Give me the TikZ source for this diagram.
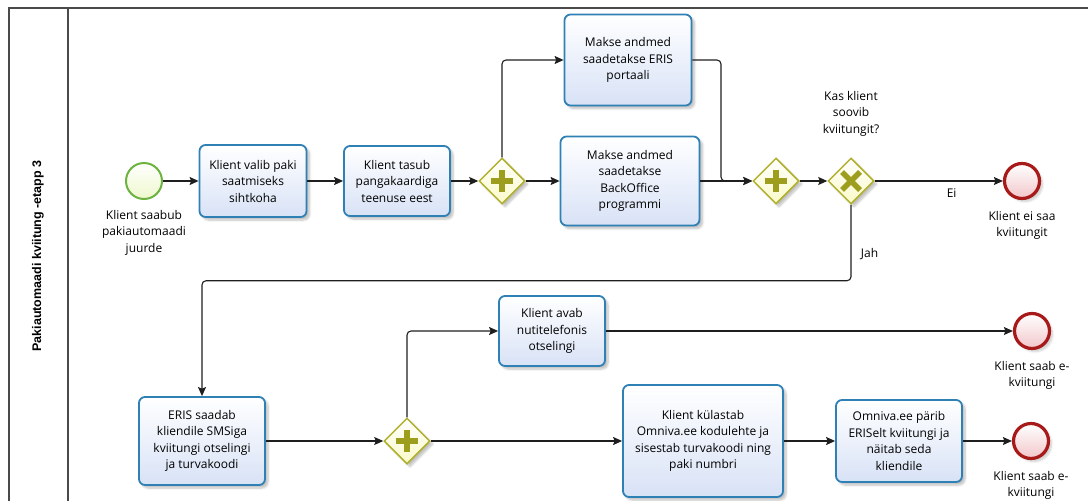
\documentclass[tikz,border=0pt]{standalone}
\usepackage{fontspec}
\setmainfont{Open Sans}
\newfontfamily\lanefont{Liberation Sans}
\usetikzlibrary{arrows.meta,shapes.geometric,shadows.blur,positioning}

\definecolor{taskline}{HTML}{2F80B4}
\definecolor{taskfill}{HTML}{D8E2F6}
\definecolor{gwline}{HTML}{B0B02C}
\definecolor{gwfill}{HTML}{FAFAC8}
\definecolor{gwsign}{HTML}{9E9E1E}
\definecolor{startline}{HTML}{6DB33F}
\definecolor{startfill}{HTML}{EEF8CC}
\definecolor{endline}{HTML}{A81A1A}
\definecolor{endfill}{HTML}{F2C6CA}
\definecolor{flowline}{HTML}{1E1E1E}
\definecolor{poolline}{HTML}{4A4A4A}

\begin{document}
\begin{tikzpicture}[x=1pt,y=-1pt,>={Stealth[length=9pt,width=8pt,inset=1.5pt]},
    font=\fontsize{12}{16.5}\selectfont,
    task/.style={rectangle,rounded corners=6pt,draw=taskline,line width=1.8pt,top color=white,bottom color=taskfill,align=center,inner sep=2pt,blur shadow={shadow xshift=3pt,shadow yshift=-3pt,shadow blur steps=6,shadow opacity=25}},
    gate/.style={diamond,draw=gwline,line width=1.5pt,top color=white,bottom color=gwfill,minimum width=46pt,minimum height=46pt,inner sep=0pt,blur shadow={shadow xshift=3pt,shadow yshift=-3pt,shadow blur steps=6,shadow opacity=25}},
    sign/.style={draw=gwsign,line width=5.5pt},
    startev/.style={circle,draw=startline,line width=2pt,top color=white,bottom color=startfill,minimum size=36pt,inner sep=0pt},
    endev/.style={circle,draw=endline,line width=3.2pt,top color=white,bottom color=endfill,minimum size=35pt,inner sep=0pt,blur shadow={shadow xshift=3pt,shadow yshift=-3pt,shadow blur steps=6,shadow opacity=20}},
    evlabel/.style={align=center,inner sep=1pt},
    flow/.style={->,draw=flowline,line width=1.1pt,rounded corners=4pt}]

    \useasboundingbox (0,0) rectangle (1088,501);
    \clip (0,0) rectangle (1088,501);

    % pool and lane header
    \draw[poolline,line width=1.5pt] (1100,8) -- (9,8) -- (9,520);
    \draw[poolline,line width=1.5pt] (68,8) -- (68,520);
    \node[rotate=90,font=\lanefont\bfseries\fontsize{12.5}{14}\selectfont] (lane) at (38,256) {Pakiautomaadi kviitung -etapp 3};

    % upper row
    \node[startev] (s0) at (144,181) {};
    \node[evlabel,below=9pt of s0] (s0txt) {Klient saabub\\pakiautomaadi\\juurde};
    \node[task,minimum width=107pt,minimum height=72pt] (t1) at (253,181) {Klient valib paki\\saatmiseks\\sihtkoha};
    \node[task,minimum width=106pt,minimum height=70pt] (t2) at (397,181) {Klient tasub\\pangakaardiga\\teenuse eest};
    \node[gate] (g1) at (502,181) {};
    \node[task,minimum width=127pt,minimum height=91pt] (t3) at (628,60) {Makse andmed\\saadetakse ERIS\\portaali};
    \node[task,minimum width=139pt,minimum height=89pt] (t4) at (630,181) {Makse andmed\\saadetakse\\BackOffice\\programmi};
    \node[gate] (g2) at (776,181) {};
    \node[gate] (g3) at (851,181) {};
    \node[evlabel,above=20pt of g3] (g3txt) {Kas klient\\soovib\\kviitungit?};
    \node[endev] (e1) at (1022,181) {};
    \node[evlabel,below=10pt of e1] (e1txt) {Klient ei saa\\kviitungit};
    \coordinate (m1) at (721,181);

    % lower row
    \node[task,minimum width=126pt,minimum height=88pt] (t5) at (202,441) {ERIS saadab\\kliendile SMSiga\\kviitungi otselingi\\ja turvakoodi};
    \node[gate] (g4) at (407,441) {};
    \node[task,minimum width=106pt,minimum height=70pt] (t6) at (552,331) {Klient avab\\nutitelefonis\\otselingi};
    \node[task,minimum width=160pt,minimum height=112pt] (t7) at (703,441) {Klient külastab\\Omniva.ee kodulehte ja\\sisestab turvakoodi ning\\paki numbri};
    \node[task,minimum width=126pt,minimum height=82pt] (t8) at (899,441) {Omniva.ee pärib\\ERISelt kviitungi ja\\näitab seda\\kliendile};
    \node[endev] (e2) at (1032,331) {};
    \node[evlabel,below=10pt of e2] (e2txt) {Klient saab e-\\kviitungi};
    \node[endev] (e3) at (1031,441) {};
    \node[evlabel,below=10pt of e3] (e3txt) {Klient saab e-\\kviitungi};

    % gateway signs
    \foreach \g in {g1,g2,g4}{
        \draw[sign] ([xshift=-11pt]\g.center) -- ([xshift=11pt]\g.center);
        \draw[sign] ([yshift=-11pt]\g.center) -- ([yshift=11pt]\g.center);
    }
    \draw[sign] ([shift={(-9pt,-9pt)}]g3.center) -- ([shift={(9pt,9pt)}]g3.center);
    \draw[sign] ([shift={(-9pt,9pt)}]g3.center) -- ([shift={(9pt,-9pt)}]g3.center);

    % sequence flows
    \draw[flow] (s0) -- (t1);
    \draw[flow] (t1) -- (t2);
    \draw[flow] (t2) -- (g1);
    \draw[flow] (g1.north) |- (t3.west);
    \draw[flow] (g1) -- (t4);
    \draw[flow] (t3.east) -| (m1) -- (g2.west);
    \draw[flow] (t4) -- (g2);
    \draw[flow] (g2) -- (g3);
    \draw[flow] (g3) -- node[pos=0.6,below=4pt] (ei) {Ei} (e1);
    \draw[flow] (g3.south) -- node[pos=0.65,right=6pt] (jah) {Jah} ++(0,76) -| (t5.north);
    \draw[flow] (t5) -- (g4);
    \draw[flow] (g4.north) |- (t6.west);
    \draw[flow] (g4) -- (t7);
    \draw[flow] (t6) -- (e2);
    \draw[flow] (t7) -- (t8);
    \draw[flow] (t8) -- (e3);
\end{tikzpicture}
\end{document}
